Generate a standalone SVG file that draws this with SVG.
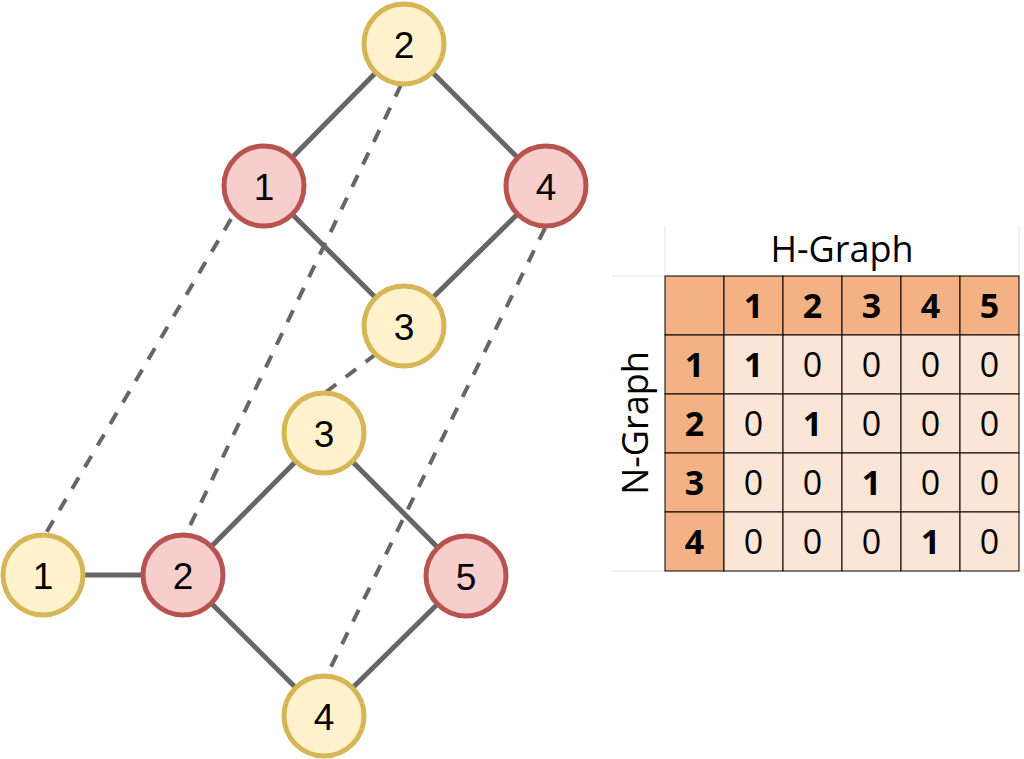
<svg xmlns="http://www.w3.org/2000/svg" width="1024" height="759" viewBox="0 0 1024 759">
  <style>
    .edge { stroke: #666666; stroke-width: 5; fill: none; }
    .map { stroke: #666666; stroke-width: 4; fill: none; stroke-dasharray: 13 12; }
    .yel { fill: #fff2cc; stroke: #d6b656; stroke-width: 5; }
    .red { fill: #f8cecc; stroke: #b85450; stroke-width: 5; }
    .lbl { font-family: "Liberation Sans", Arial, sans-serif; font-size: 37px; fill: #000; text-anchor: middle; }
    .hdr { fill: #f4b183; stroke: #000; stroke-width: 1; }
    .cell { fill: #fbe5d6; stroke: #000; stroke-width: 1; }
    .grid { stroke: #e3e3e3; stroke-width: 1; fill: none; }
    .num { font-family: "Open Sans", "Liberation Sans", sans-serif; font-size: 34px; fill: #000; text-anchor: middle; }
    .b { font-weight: bold; }
    .title { font-family: "Open Sans", "Liberation Sans", sans-serif; font-size: 36px; fill: #000; text-anchor: middle; }
  </style>

  <!-- connectors -->
  <g id="connectors">
    <!-- H-graph edges -->
    <line class="edge" x1="404" y1="44" x2="264" y2="186"/>
    <line class="edge" x1="404" y1="44" x2="546" y2="186"/>
    <line class="edge" x1="264" y1="186" x2="404" y2="326"/>
    <line class="edge" x1="546" y1="186" x2="404" y2="326"/>
    <!-- N-graph edges -->
    <line class="edge" x1="43" y1="575" x2="183" y2="575"/>
    <line class="edge" x1="183" y1="575" x2="324" y2="433"/>
    <line class="edge" x1="324" y1="433" x2="466" y2="576"/>
    <line class="edge" x1="183" y1="575" x2="324" y2="716"/>
    <line class="edge" x1="324" y1="716" x2="466" y2="576"/>
    <!-- node mapping (dashed) -->
    <line class="map" x1="231" y1="219" x2="46" y2="533"/>
    <line class="map" x1="401" y1="85" x2="186" y2="534"/>
    <line class="map" x1="376" y1="354" x2="326" y2="392"/>
    <line class="map" x1="545" y1="228" x2="327" y2="675"/>
  </g>

  <!-- H-graph nodes -->
  <g id="h2"><circle class="yel" cx="404" cy="44" r="40"/><text class="lbl" x="404" y="57.5">2</text></g>
  <g id="h1"><circle class="red" cx="264" cy="186" r="40"/><text class="lbl" x="264" y="199.5">1</text></g>
  <g id="h4"><circle class="red" cx="546" cy="186" r="40"/><text class="lbl" x="546" y="199.5">4</text></g>
  <g id="h3"><circle class="yel" cx="404" cy="326" r="40"/><text class="lbl" x="404" y="339.5">3</text></g>

  <!-- N-graph nodes -->
  <g id="n3"><circle class="yel" cx="324" cy="433" r="40"/><text class="lbl" x="324" y="446.5">3</text></g>
  <g id="n1"><circle class="yel" cx="43" cy="575" r="40"/><text class="lbl" x="43" y="588.5">1</text></g>
  <g id="n2"><circle class="red" cx="183" cy="575" r="40"/><text class="lbl" x="183" y="588.5">2</text></g>
  <g id="n5"><circle class="red" cx="466" cy="576" r="40"/><text class="lbl" x="466" y="589.5">5</text></g>
  <g id="n4"><circle class="yel" cx="324" cy="716" r="40"/><text class="lbl" x="324" y="729.5">4</text></g>

  <!-- correspondence matrix -->
  <g id="matrix">
    <!-- faint sheet grid -->
    <line class="grid" x1="665" y1="226" x2="665" y2="276"/>
    <line class="grid" x1="1019" y1="226" x2="1019" y2="276"/>
    <line class="grid" x1="612" y1="276" x2="665" y2="276"/>
    <line class="grid" x1="612" y1="571" x2="665" y2="571"/>
    <line class="grid" x1="1019" y1="335" x2="1024" y2="335"/>
    <line class="grid" x1="1019" y1="571" x2="1024" y2="571"/>

    <text class="title" x="842" y="262">H-Graph</text>
    <text class="title" transform="translate(648 423) rotate(-90)" x="0" y="0">N-Graph</text>

    <!-- header row -->
    <rect class="hdr" x="665" y="276" width="59" height="59"/>
    <rect class="hdr" x="724" y="276" width="59" height="59"/>
    <rect class="hdr" x="783" y="276" width="59" height="59"/>
    <rect class="hdr" x="842" y="276" width="59" height="59"/>
    <rect class="hdr" x="901" y="276" width="59" height="59"/>
    <rect class="hdr" x="960" y="276" width="59" height="59"/>
    <!-- header column -->
    <rect class="hdr" x="665" y="335" width="59" height="59"/>
    <rect class="hdr" x="665" y="394" width="59" height="59"/>
    <rect class="hdr" x="665" y="453" width="59" height="59"/>
    <rect class="hdr" x="665" y="512" width="59" height="59"/>
    <!-- data cells -->
    <g>
      <rect class="cell" x="724" y="335" width="59" height="59"/>
      <rect class="cell" x="783" y="335" width="59" height="59"/>
      <rect class="cell" x="842" y="335" width="59" height="59"/>
      <rect class="cell" x="901" y="335" width="59" height="59"/>
      <rect class="cell" x="960" y="335" width="59" height="59"/>
      <rect class="cell" x="724" y="394" width="59" height="59"/>
      <rect class="cell" x="783" y="394" width="59" height="59"/>
      <rect class="cell" x="842" y="394" width="59" height="59"/>
      <rect class="cell" x="901" y="394" width="59" height="59"/>
      <rect class="cell" x="960" y="394" width="59" height="59"/>
      <rect class="cell" x="724" y="453" width="59" height="59"/>
      <rect class="cell" x="783" y="453" width="59" height="59"/>
      <rect class="cell" x="842" y="453" width="59" height="59"/>
      <rect class="cell" x="901" y="453" width="59" height="59"/>
      <rect class="cell" x="960" y="453" width="59" height="59"/>
      <rect class="cell" x="724" y="512" width="59" height="59"/>
      <rect class="cell" x="783" y="512" width="59" height="59"/>
      <rect class="cell" x="842" y="512" width="59" height="59"/>
      <rect class="cell" x="901" y="512" width="59" height="59"/>
      <rect class="cell" x="960" y="512" width="59" height="59"/>
    </g>

    <!-- header labels -->
    <text class="num b" x="753.5" y="318">1</text>
    <text class="num b" x="812.5" y="318">2</text>
    <text class="num b" x="871.5" y="318">3</text>
    <text class="num b" x="930.5" y="318">4</text>
    <text class="num b" x="989.5" y="318">5</text>
    <text class="num b" x="694.5" y="377">1</text>
    <text class="num b" x="694.5" y="436">2</text>
    <text class="num b" x="694.5" y="495">3</text>
    <text class="num b" x="694.5" y="554">4</text>

    <!-- row 1 -->
    <text class="num b" x="753.5" y="377">1</text>
    <text class="num" x="812.5" y="377">0</text>
    <text class="num" x="871.5" y="377">0</text>
    <text class="num" x="930.5" y="377">0</text>
    <text class="num" x="989.5" y="377">0</text>
    <!-- row 2 -->
    <text class="num" x="753.5" y="436">0</text>
    <text class="num b" x="812.5" y="436">1</text>
    <text class="num" x="871.5" y="436">0</text>
    <text class="num" x="930.5" y="436">0</text>
    <text class="num" x="989.5" y="436">0</text>
    <!-- row 3 -->
    <text class="num" x="753.5" y="495">0</text>
    <text class="num" x="812.5" y="495">0</text>
    <text class="num b" x="871.5" y="495">1</text>
    <text class="num" x="930.5" y="495">0</text>
    <text class="num" x="989.5" y="495">0</text>
    <!-- row 4 -->
    <text class="num" x="753.5" y="554">0</text>
    <text class="num" x="812.5" y="554">0</text>
    <text class="num" x="871.5" y="554">0</text>
    <text class="num b" x="930.5" y="554">1</text>
    <text class="num" x="989.5" y="554">0</text>
  </g>
</svg>
